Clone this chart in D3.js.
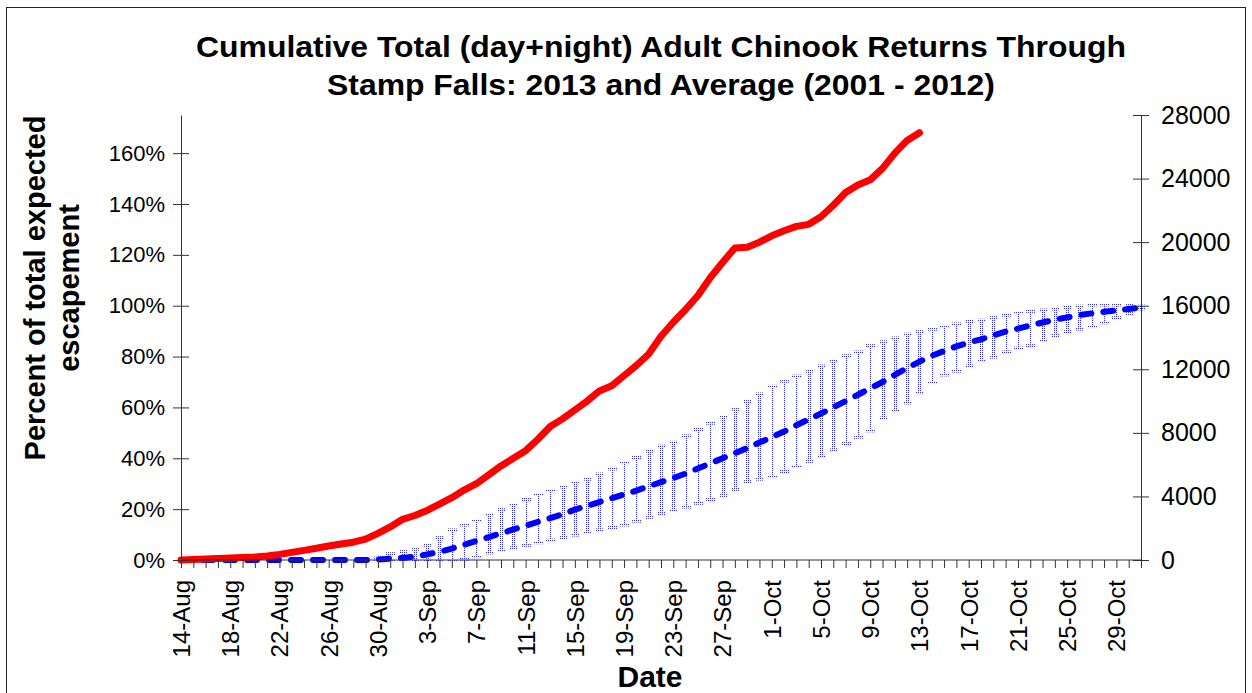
<!DOCTYPE html>
<html>
<head>
<meta charset="utf-8">
<script src="https://cdn.jsdelivr.net/npm/d3@7"></script>
<style>
  html, body { margin: 0; padding: 0; background: #fff; }
  svg { display: block; font-family: Arial, "Liberation Sans", sans-serif; }
</style>
</head>
<body>
<svg id="chart" width="1252" height="693"></svg>
<script>
// ---------------- DATA ----------------
const startDate = new Date(2013, 7, 14);   // 14-Aug
const endDate = new Date(2013, 10, 1);     // exclusive (last = 31-Oct)
const fmt = d3.timeFormat("%-d-%b");
const categories = d3.timeDay.range(startDate, endDate).map(fmt);

const tickLabels = ["14-Aug","18-Aug","22-Aug","26-Aug","30-Aug","3-Sep","7-Sep","11-Sep",
  "15-Sep","19-Sep","23-Sep","27-Sep","1-Oct","5-Oct","9-Oct","13-Oct","17-Oct","21-Oct","25-Oct","29-Oct"];

// 2013 cumulative percent (14-Aug .. 13-Oct)
const pct2013 = [0.0,0.2,0.4,0.6,0.8,1.0,1.2,1.6,2.2,3.0,
  3.8,4.6,5.5,6.3,7.0,8.2,10.5,13.0,16.0,17.5,
  19.5,22.0,24.5,27.5,30.0,33.5,37.0,40.0,43.0,47.5,
  52.5,55.5,59.0,62.5,66.5,68.5,72.5,76.5,81.0,88.0,
  93.5,98.5,104.0,111.0,117.0,122.7,123.0,125.0,127.5,129.5,
  131.2,132.0,135.0,139.5,144.5,147.5,149.5,154.0,160.0,165.0,
  168.0];

// Average 2001-2012 cumulative percent (14-Aug .. 31-Oct)
const avgPct = [0,0,0,0,0,0,0,0,0,0,
  0,0,0,0,0,0,0.2,0.5,0.8,1.3,
  2.2,3.2,4.5,6.0,7.5,9.0,10.5,12.0,13.5,15.0,
  16.5,18.0,19.8,21.3,22.8,24.3,25.8,27.3,29.0,30.6,
  32.2,34.0,36.0,38.0,40.0,42.0,44.0,46.2,48.3,50.5,
  53.0,55.3,57.6,60.0,62.5,65.0,67.5,70.0,72.8,75.5,
  78.0,80.3,82.2,84.0,85.5,86.8,88.3,89.8,91.0,92.2,
  93.4,94.5,95.4,96.3,97.0,97.6,98.2,98.7,99.3];

// Error-bar upper and lower bounds (percent)
const avgHigh = [0,0,0,0,0,0,0,0,0,0,
  0,0,0,0,0,0,1.0,2.7,3.5,4.5,
  6.0,9.0,12.0,14.0,15.7,18.0,20.0,22.0,24.0,26.0,
  27.5,29.0,30.7,32.0,34.0,36.0,38.5,40.5,43.0,45.0,
  46.5,49.0,51.5,54.0,56.5,59.5,62.5,65.5,68.5,70.5,
  72.5,74.5,76.5,78.5,80.5,82.0,84.5,86.0,87.5,89.0,
  90.0,91.0,92.0,93.0,94.0,94.5,95.5,96.5,97.5,98.0,
  98.5,99.0,99.5,100.0,100.5,100.5,100.5,100.5,100.0];
const avgLow = [0,0,0,0,0,0,0,0,0,0,
  0,0,0,0,0,0,0,0,0,0,
  0,0,0,0.5,1.5,3.0,4.0,5.0,6.0,7.0,
  8.0,9.0,10.0,11.0,12.0,13.0,14.0,15.5,17.0,18.5,
  19.7,21.0,22.5,24.0,25.6,28.0,31.0,32.0,33.0,35.0,
  37.0,39.0,41.0,43.5,46.0,48.5,51.0,56.0,59.0,62.0,
  66.0,70.0,73.0,74.5,76.5,78.6,80.0,82.0,83.5,84.5,
  86.5,88.5,90.0,91.0,92.0,93.5,95.5,97.0,99.0];

const leftTicks = [0,20,40,60,80,100,120,140,160];
const rightTicks = [0,4000,8000,12000,16000,20000,24000,28000];

// ---------------- LAYOUT ----------------
const svg = d3.select("#chart");
const plot = {left: 181, right: 1141, top: 115, bottom: 560};

const x = d3.scalePoint().domain(categories).range([plot.left, plot.right]);
const yL = d3.scaleLinear().domain([0, 175]).range([plot.bottom, plot.top]);
const yR = d3.scaleLinear().domain([0, 28000]).range([plot.bottom, plot.top]);

// border
svg.append("rect").attr("x", 6.5).attr("y", 7.5).attr("width", 1239).attr("height", 700)
  .attr("fill", "none").attr("stroke", "#222").attr("stroke-width", 1);

// dotted pattern for error bars
const defs = svg.append("defs");
const pat = defs.append("pattern").attr("id", "dots").attr("patternUnits", "userSpaceOnUse")
  .attr("width", 2).attr("height", 2);
pat.append("rect").attr("x", 0).attr("y", 0).attr("width", 1).attr("height", 1).attr("fill", "#2a2aff");

// error bars
const eb = svg.append("g");
categories.forEach((c, i) => {
  const cx = x(c);
  const yt = yL(avgHigh[i]), yb = yL(avgLow[i]);
  if (yb - yt < 0.5) return;
  eb.append("rect").attr("x", Math.round(cx) - 1).attr("y", yt).attr("width", 3).attr("height", yb - yt)
    .attr("fill", "url(#dots)");
  eb.append("rect").attr("x", Math.round(cx) - 4).attr("y", yt - 1).attr("width", 9).attr("height", 3)
    .attr("fill", "url(#dots)");
  eb.append("rect").attr("x", Math.round(cx) - 4).attr("y", yb - 1).attr("width", 9).attr("height", 3)
    .attr("fill", "url(#dots)");
});

// average line (dashed blue)
svg.append("path")
  .datum(avgPct)
  .attr("fill", "none").attr("stroke", "#0000ff").attr("stroke-width", 6)
  .attr("stroke-linecap", "round").attr("stroke-dasharray", "10,12")
  .attr("d", d3.line().x((d, i) => x(categories[i])).y(d => yL(d)));

// 2013 line (red)
svg.append("path")
  .datum(pct2013)
  .attr("fill", "none").attr("stroke", "#ff0000").attr("stroke-width", 7)
  .attr("stroke-linecap", "round").attr("stroke-linejoin", "round")
  .attr("d", d3.line().x((d, i) => x(categories[i])).y(d => yL(d)));

// ---------------- AXES ----------------
const axisColor = "#333";
const ff = "Arial, Liberation Sans, sans-serif";
// left axis
const gL = svg.append("g").attr("transform", `translate(${plot.left},0)`)
  .call(d3.axisLeft(yL).tickValues(leftTicks).tickFormat(d => d + "%").tickSize(0).tickPadding(16));
gL.select(".domain").attr("stroke", axisColor);
gL.selectAll(".tick").append("line").attr("x1", -8).attr("x2", 8).attr("stroke", axisColor);
gL.selectAll("text").attr("font-size", 22).attr("fill", "#000").attr("font-family", ff);

// right axis
const gR = svg.append("g").attr("transform", `translate(${plot.right},0)`)
  .call(d3.axisRight(yR).tickValues(rightTicks).tickFormat(d3.format("d")).tickSize(0).tickPadding(20));
gR.select(".domain").attr("stroke", axisColor);
gR.selectAll(".tick").append("line").attr("x1", -8).attr("x2", 8).attr("stroke", axisColor);
gR.selectAll("text").attr("font-size", 25).attr("fill", "#000").attr("font-family", ff);

// bottom axis
const gB = svg.append("g").attr("transform", `translate(0,${plot.bottom})`)
  .call(d3.axisBottom(x).tickSize(8).tickFormat(d => tickLabels.includes(d) ? d : ""));
gB.select(".domain").attr("stroke", axisColor).attr("d", `M${plot.left},0H${plot.right}`);
gB.selectAll(".tick line").attr("stroke", axisColor);
gB.selectAll("text")
  .attr("font-size", 24).attr("fill", "#000").attr("font-family", ff)
  .attr("text-anchor", "end").attr("transform", "rotate(-90)")
  .attr("x", -20).attr("y", 0).attr("dy", "0.35em");

// ---------------- TEXT ----------------
const title = svg.append("text").attr("text-anchor", "middle").attr("font-weight", "bold")
  .attr("font-size", 30).attr("fill", "#000");
title.append("tspan").attr("x", 661).attr("y", 57)
  .attr("textLength", 930).attr("lengthAdjust", "spacingAndGlyphs")
  .text("Cumulative Total (day+night) Adult Chinook Returns Through");
title.append("tspan").attr("x", 661).attr("y", 95)
  .attr("textLength", 668).attr("lengthAdjust", "spacingAndGlyphs")
  .text("Stamp Falls: 2013 and Average (2001 - 2012)");

const yl = svg.append("text").attr("text-anchor", "middle").attr("font-weight", "bold")
  .attr("font-size", 29).attr("fill", "#000")
  .attr("transform", "translate(0,288) rotate(-90)");
yl.append("tspan").attr("x", 0).attr("y", 45).text("Percent of total expected");
yl.append("tspan").attr("x", 0).attr("y", 79).text("escapement");

svg.append("text").attr("x", 650).attr("y", 687).attr("text-anchor", "middle")
  .attr("font-weight", "bold").attr("font-size", 30).attr("fill", "#000").text("Date");
</script>
</body>
</html>
